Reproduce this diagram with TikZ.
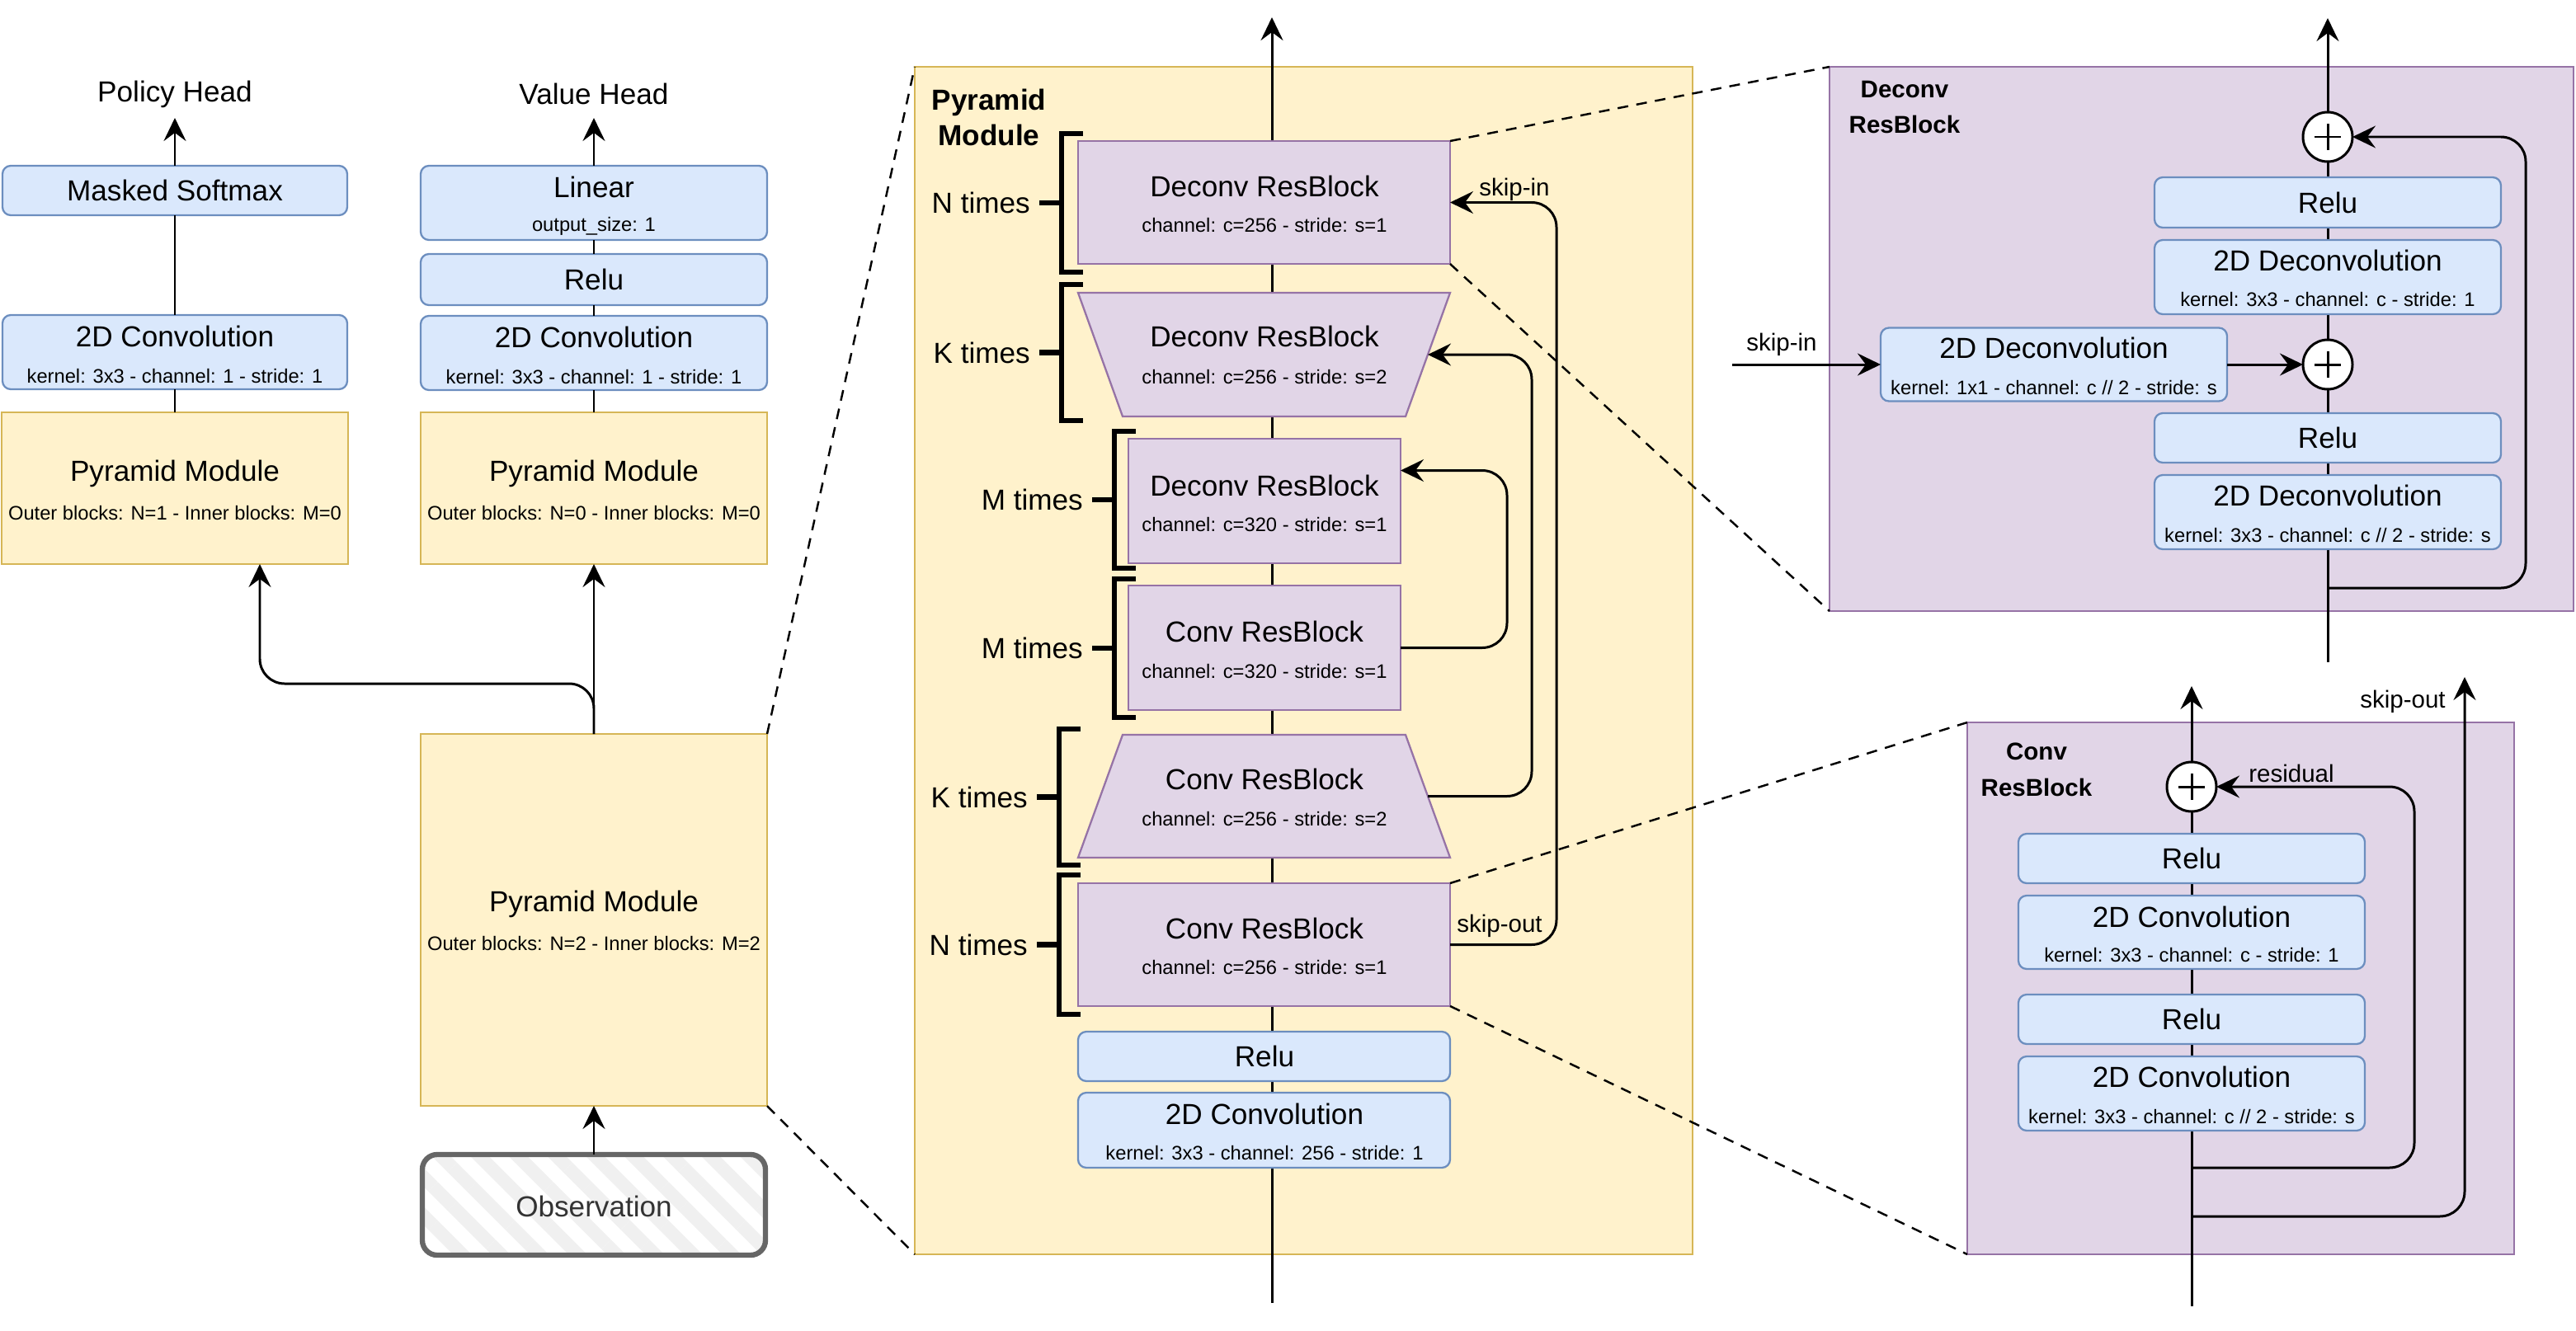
\documentclass[tikz,border=0pt]{standalone}
\usepackage{fontspec}
\setmainfont{Liberation Sans}
\usetikzlibrary{arrows.meta,calc,patterns.meta}

\definecolor{bluefill}{HTML}{DAE8FC}
\definecolor{blueline}{HTML}{6C8EBF}
\definecolor{yelfill}{HTML}{FFF2CC}
\definecolor{yelline}{HTML}{D6B656}
\definecolor{purpfill}{HTML}{E1D5E7}
\definecolor{purpline}{HTML}{9673A6}
\definecolor{obsline}{HTML}{666666}
\definecolor{obstext}{HTML}{333333}

\newcommand{\bigsz}{\fontsize{10}{12}\selectfont}
\newcommand{\smallsz}{\fontsize{6.75}{8}\selectfont}
\newcommand{\lblsz}{\fontsize{8.4}{10}\selectfont}

\tikzset{
  blk/.style={draw=blueline, fill=bluefill, rounded corners=1mm, line width=0.65pt, inner sep=0pt, outer sep=0pt},
  pyrbox/.style={draw=yelline, fill=yelfill, line width=0.65pt, inner sep=0pt, outer sep=0pt},
  resbox/.style={draw=purpline, fill=purpfill, line width=0.65pt, inner sep=0pt, outer sep=0pt},
  slot/.style={inner sep=0pt, outer sep=0pt},
  obsbox/.style={draw=obsline, line width=1.8pt, rounded corners=1.8mm, inner sep=0pt, outer sep=0pt,
    preaction={fill=white}, pattern={Lines[angle=-45, distance=3.3mm, line width=1.6mm]}, pattern color=black!6},
  big/.style={font=\bigsz, inner sep=0pt},
  sub/.style={font=\smallsz, inner sep=0pt},
  lbl/.style={font=\lblsz, inner sep=0pt},
  title/.style={font=\bfseries\fontsize{10}{12.2}\selectfont, align=center, inner sep=0pt},
  smalltitle/.style={font=\bfseries\fontsize{8.4}{12.5}\selectfont, align=center, inner sep=0pt},
  conn/.style={line width=0.85pt},
  arr/.style={conn, -{Stealth[length=2.8mm, width=2.7mm, inset=1mm]}},
  zoomline/.style={line width=0.7pt, dash pattern=on 1.3mm off 1mm},
  brace/.style={line width=1.8pt},
  sum/.style={circle, draw, fill=white, line width=0.85pt, minimum size=6mm, inner sep=0pt, outer sep=0pt,
    path picture={\draw[line width=0.85pt]
      ([xshift=-1.6mm]path picture bounding box.center) -- ([xshift=1.6mm]path picture bounding box.center)
      ([yshift=-1.6mm]path picture bounding box.center) -- ([yshift=1.6mm]path picture bounding box.center);}},
}

\begin{document}
\begin{tikzpicture}[x=1mm,y=-1mm]
  \useasboundingbox (0,0) rectangle (312.3,161.4);

  % ---------- heads ----------
  \node[big] (phead) at (21.2,11.4) {Policy Head};
  \node[big] (vhead) at (72.0,11.4) {Value Head};
  \coordinate (pout) at (21.2,14.3);
  \coordinate (vout) at (72.0,14.3);

  \node[blk, minimum width=41.8mm, minimum height=6mm] (pmask) at (21.2,23.1) {};
  \node[big] (pmask-t) at (21.2,23.1) {Masked Softmax};
  \node[blk, minimum width=41.8mm, minimum height=9mm] (pconv) at (21.2,42.7) {};
  \node[big] (pconv-t) at (21.2,40.8) {2D Convolution};
  \node[sub] (pconv-s) at (21.2,45.6) {kernel: 3x3 - channel: 1 - stride: 1};
  \node[pyrbox, minimum width=42mm, minimum height=18.4mm] (ppyr) at (21.2,59.2) {};
  \node[big] (ppyr-t) at (21.2,57.4) {Pyramid Module};
  \node[sub] (ppyr-s) at (21.2,62.2) {Outer blocks: N=1 - Inner blocks: M=0};

  \node[blk, minimum width=42mm, minimum height=9mm] (vlin) at (72.0,24.6) {};
  \node[big] (vlin-t) at (72.0,22.7) {Linear};
  \node[sub] (vlin-s) at (72.0,27.4) {output\_size: 1};
  \node[blk, minimum width=42mm, minimum height=6.2mm] (vrelu) at (72.0,33.9) {};
  \node[big] (vrelu-t) at (72.0,33.9) {Relu};
  \node[blk, minimum width=42mm, minimum height=9mm] (vconv) at (72.0,42.8) {};
  \node[big] (vconv-t) at (72.0,40.9) {2D Convolution};
  \node[sub] (vconv-s) at (72.0,45.7) {kernel: 3x3 - channel: 1 - stride: 1};
  \node[pyrbox, minimum width=42mm, minimum height=18.4mm] (vpyr) at (72.0,59.2) {};
  \node[big] (vpyr-t) at (72.0,57.4) {Pyramid Module};
  \node[sub] (vpyr-s) at (72.0,62.2) {Outer blocks: N=0 - Inner blocks: M=0};

  \node[pyrbox, minimum width=42mm, minimum height=45.1mm] (bigpyr) at (72.0,111.55) {};
  \node[big] (bigpyr-t) at (72.0,109.6) {Pyramid Module};
  \node[sub] (bigpyr-s) at (72.0,114.4) {Outer blocks: N=2 - Inner blocks: M=2};
  \node[obsbox, minimum width=41.6mm, minimum height=12.2mm] (obs) at (72.0,146.1) {};
  \node[big, text=obstext] (obs-t) at (72.0,146.3) {Observation};

  \draw[arr] (pmask.north) -- (pout);
  \draw[conn] (pconv.north) -- (pmask.south);
  \draw[conn] (ppyr.north) -- (pconv.south);
  \draw[arr] (vlin.north) -- (vout);
  \draw[conn] (vrelu.north) -- (vlin.south);
  \draw[conn] (vconv.north) -- (vrelu.south);
  \draw[conn] (vpyr.north) -- (vconv.south);
  \draw[arr] (obs.north) -- (bigpyr.south);
  \draw[arr] (bigpyr.north) -- (vpyr.south);
  \coordinate (pbend) at (31.5,82.9);
  \draw[arr, rounded corners=3mm] (bigpyr.north) |- (pbend) -- (pbend |- ppyr.south);

  % ---------- pyramid module ----------
  \node[pyrbox, minimum width=94.3mm, minimum height=144mm] (pyr) at (158.05,80.1) {};
  \node[title] (pyr-t) at (119.9,14.25) {Pyramid\\Module};
  \coordinate (pyin) at (154.2,158.0);
  \coordinate (pyout) at (154.2,2.1);
  \draw[arr] (pyin) -- (pyout);

  \node[resbox, minimum width=45.1mm, minimum height=14.9mm] (dN) at (153.25,24.55) {};
  \node[big] (dN-t) at (153.3,22.6) {Deconv ResBlock};
  \node[sub] (dN-s) at (153.3,27.3) {channel: c=256 - stride: s=1};
  \node[slot, minimum width=45.1mm, minimum height=15mm] (dK) at (153.25,43.0) {};
  \draw[resbox] (dK.north west) -- (dK.north east) -- ($(dK.south east)+(-5.4,0)$)
    -- ($(dK.south west)+(5.4,0)$) -- cycle;
  \node[big] (dK-t) at (153.3,40.8) {Deconv ResBlock};
  \node[sub] (dK-s) at (153.3,45.7) {channel: c=256 - stride: s=2};
  \node[resbox, minimum width=33mm, minimum height=15.1mm] (dM) at (153.3,60.75) {};
  \node[big] (dM-t) at (153.3,58.9) {Deconv ResBlock};
  \node[sub] (dM-s) at (153.3,63.6) {channel: c=320 - stride: s=1};
  \node[resbox, minimum width=33mm, minimum height=15.1mm] (cM) at (153.3,78.55) {};
  \node[big] (cM-t) at (153.3,76.6) {Conv ResBlock};
  \node[sub] (cM-s) at (153.3,81.4) {channel: c=320 - stride: s=1};
  \node[slot, minimum width=45.1mm, minimum height=14.9mm] (cK) at (153.25,96.55) {};
  \draw[resbox] ($(cK.north west)+(5.4,0)$) -- ($(cK.north east)+(-5.4,0)$) -- (cK.south east)
    -- (cK.south west) -- cycle;
  \node[big] (cK-t) at (153.3,94.5) {Conv ResBlock};
  \node[sub] (cK-s) at (153.3,99.3) {channel: c=256 - stride: s=2};
  \node[resbox, minimum width=45.1mm, minimum height=14.9mm] (cN) at (153.25,114.55) {};
  \node[big] (cN-t) at (153.3,112.6) {Conv ResBlock};
  \node[sub] (cN-s) at (153.3,117.3) {channel: c=256 - stride: s=1};
  \node[blk, minimum width=45.1mm, minimum height=6mm] (relu0) at (153.25,128.1) {};
  \node[big] (relu0-t) at (153.3,128.1) {Relu};
  \node[blk, minimum width=45.1mm, minimum height=9.1mm] (conv0) at (153.25,137.05) {};
  \node[big] (conv0-t) at (153.3,135.1) {2D Convolution};
  \node[sub] (conv0-s) at (153.3,139.8) {kernel: 3x3 - channel: 256 - stride: 1};

  % repeat brackets
  \foreach \xb/\ya/\yb/\lab [count=\i] in {128.7/16.2/33.0/N times, 128.7/34.5/51.0/K times,
      135.1/52.3/68.9/M times, 135.1/70.2/87.0/M times, 128.4/88.4/104.9/K times, 128.4/106.1/123.0/N times}
    \draw[brace] (\xb+2.6,\ya) -- (\xb,\ya) -- (\xb,\yb) -- (\xb+2.6,\yb)
      (\xb,{(\ya+\yb)/2}) -- (\xb-2.7,{(\ya+\yb)/2})
      node[big, anchor=east, xshift=-0.8mm] (times\i) {\lab};

  % skip connections
  \draw[arr, rounded corners=3mm] (cN.east) -| (188.7,24.55) -- (dN.east);
  \draw[arr, rounded corners=3mm] ($(cK.east)+(-2.7,0)$) -| (185.7,43.0) -- ($(dK.east)+(-2.7,0)$);
  \draw[arr, rounded corners=3mm] (cM.east) -| (182.7,57.05) -- ($(dM.east)+(0,-3.7)$);
  \node[lbl] (skipin-l) at (183.6,23.0) {skip-in};
  \node[lbl] (skipout-l) at (181.8,112.3) {skip-out};

  % ---------- deconv resblock ----------
  \node[resbox, minimum width=90.2mm, minimum height=66mm] (dpan) at (266.9,41.1) {};
  \node[smalltitle] (dpan-t) at (230.9,13.0) {Deconv\\ResBlock};
  \coordinate (din) at (282.2,80.3);
  \coordinate (dout) at (282.2,2.2);
  \draw[arr] (din) -- (dout);
  \node[sum] (dsum1) at (282.2,16.6) {};
  \node[blk, minimum width=42mm, minimum height=6.1mm] (drelu1) at (282.2,24.55) {};
  \node[big] (drelu1-t) at (282.2,24.55) {Relu};
  \node[blk, minimum width=42mm, minimum height=9mm] (ddec1) at (282.2,33.6) {};
  \node[big] (ddec1-t) at (282.2,31.6) {2D Deconvolution};
  \node[sub] (ddec1-s) at (282.2,36.3) {kernel: 3x3 - channel: c - stride: 1};
  \node[sum] (dsum2) at (282.2,44.2) {};
  \node[blk, minimum width=42mm, minimum height=8.9mm] (dskip) at (249.0,44.2) {};
  \node[big] (dskip-t) at (249.0,42.2) {2D Deconvolution};
  \node[sub] (dskip-s) at (249.0,47.0) {kernel: 1x1 - channel: c // 2 - stride: s};
  \node[blk, minimum width=42mm, minimum height=6mm] (drelu2) at (282.2,53.1) {};
  \node[big] (drelu2-t) at (282.2,53.1) {Relu};
  \node[blk, minimum width=42mm, minimum height=9mm] (ddec2) at (282.2,62.1) {};
  \node[big] (ddec2-t) at (282.2,60.1) {2D Deconvolution};
  \node[sub] (ddec2-s) at (282.2,64.9) {kernel: 3x3 - channel: c // 2 - stride: s};

  \coordinate (dskin) at (210.0,44.2);
  \draw[arr] (dskin) -- (dskip.west);
  \node[lbl] (dskin-l) at (216.0,41.8) {skip-in};
  \draw[arr] (dskip.east) -- (dsum2.west);
  \coordinate (dres) at (282.2,71.3);
  \draw[arr, rounded corners=3mm] (dres) -| (306.2,16.6) -- (dsum1.east);

  % ---------- conv resblock ----------
  \node[resbox, minimum width=66.3mm, minimum height=64.5mm] (cpan) at (271.65,119.85) {};
  \node[smalltitle] (cpan-t) at (246.9,93.35) {Conv\\ResBlock};
  \coordinate (cin) at (265.7,158.4);
  \coordinate (cout) at (265.7,83.2);
  \draw[arr] (cin) -- (cout);
  \node[sum] (csum) at (265.7,95.4) {};
  \node[blk, minimum width=42mm, minimum height=6mm] (crelu1) at (265.7,104.1) {};
  \node[big] (crelu1-t) at (265.7,104.1) {Relu};
  \node[blk, minimum width=42mm, minimum height=8.9mm] (cconv1) at (265.7,113.05) {};
  \node[big] (cconv1-t) at (265.7,111.2) {2D Convolution};
  \node[sub] (cconv1-s) at (265.7,115.8) {kernel: 3x3 - channel: c - stride: 1};
  \node[blk, minimum width=42mm, minimum height=6mm] (crelu2) at (265.7,123.6) {};
  \node[big] (crelu2-t) at (265.7,123.6) {Relu};
  \node[blk, minimum width=42mm, minimum height=9mm] (cconv2) at (265.7,132.6) {};
  \node[big] (cconv2-t) at (265.7,130.6) {2D Convolution};
  \node[sub] (cconv2-s) at (265.7,135.4) {kernel: 3x3 - channel: c // 2 - stride: s};

  \coordinate (cres) at (265.7,141.6);
  \draw[arr, rounded corners=3mm] (cres) -| (292.7,95.4) -- (csum.east);
  \node[lbl] (cres-l) at (277.8,93.8) {residual};
  \coordinate (cskip) at (265.7,147.5);
  \coordinate (cskout) at (298.8,82.1);
  \draw[arr, rounded corners=3mm] (cskip) -| (cskout);
  \node[lbl] (cskout-l) at (291.3,85.1) {skip-out};

  % ---------- zoom lines ----------
  \draw[zoomline] (bigpyr.north east) -- (pyr.north west);
  \draw[zoomline] (bigpyr.south east) -- (pyr.south west);
  \draw[zoomline] (dN.north east) -- (dpan.north west);
  \draw[zoomline] (dN.south east) -- (dpan.south west);
  \draw[zoomline] (cN.north east) -- (cpan.north west);
  \draw[zoomline] (cN.south east) -- (cpan.south west);
\end{tikzpicture}
\end{document}
